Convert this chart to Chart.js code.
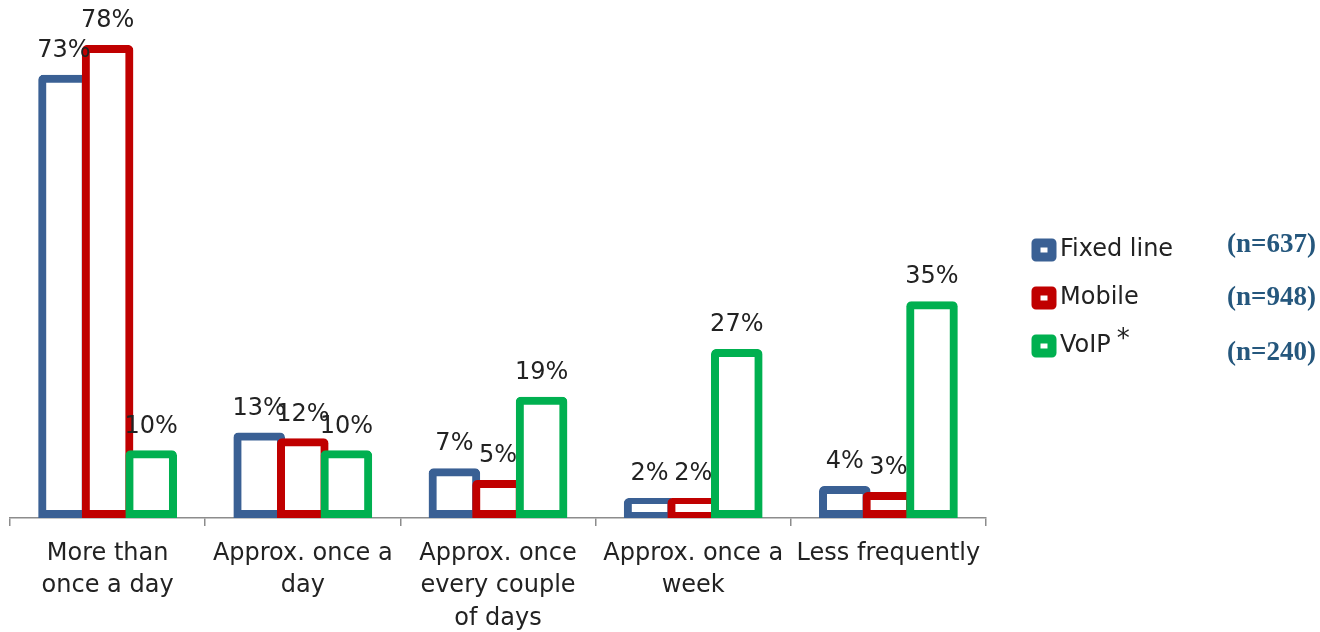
<!DOCTYPE html>
<html>
<head>
<meta charset="utf-8">
<script src="https://cdn.jsdelivr.net/npm/chart.js@4"></script>
<style>
  html, body { margin: 0; padding: 0; background: #fff; }
  #wrap { width: 1320px; height: 632px; }
</style>
</head>
<body>
<div id="wrap"><canvas id="chart" width="1320" height="632"></canvas></div>
<script>
// categories (wrapped the way the original shows them)
const categories = [
  ["More than", "once a day"],
  ["Approx. once a", "day"],
  ["Approx. once", "every couple", "of days"],
  ["Approx. once a", "week"],
  ["Less frequently"]
];
const seriesNames = ["Fixed line", "Mobile", "VoIP"];
const sampleSizes = ["(n=637)", "(n=948)", "(n=240)"];
const fixedLine = [73, 13, 7, 2, 4];
const mobile = [78, 12, 5, 2, 3];
const voip = [10, 10, 19, 27, 35];

const colors = ["#3a6094", "#c00000", "#00b050"];
const font = "DejaVu Sans";

// draw series left to right so later bars overlap earlier ones, like the original
const forwardOrder = {
  id: "forwardOrder",
  beforeDatasetsDraw(chart) {
    for (let i = 0; i < chart.data.datasets.length; i++) {
      chart.getDatasetMeta(i).controller.draw();
    }
    return false;
  }
};

// value labels above each bar
const valueLabels = {
  id: "valueLabels",
  afterDraw(chart) {
    const ctx = chart.ctx;
    ctx.save();
    ctx.font = "24px '" + font + "'";
    ctx.fillStyle = "#222";
    ctx.textAlign = "center";
    ctx.textBaseline = "middle";
    chart.data.datasets.forEach((ds, i) => {
      chart.getDatasetMeta(i).data.forEach((bar, j) => {
        ctx.fillText(ds.data[j] + "%", bar.x, bar.y - 28);
      });
    });
    ctx.restore();
  }
};

// legend on the right plus the sample sizes
const sideLegend = {
  id: "sideLegend",
  afterDraw(chart) {
    const ctx = chart.ctx;
    ctx.save();
    const rows = [250, 298, 346];
    chart.data.datasets.forEach((ds, i) => {
      const y = rows[i];
      ctx.strokeStyle = ds.borderColor;
      ctx.lineWidth = 9;
      ctx.lineJoin = "round";
      ctx.strokeRect(1036, y - 7, 16, 14);
      ctx.font = "24px '" + font + "'";
      ctx.fillStyle = "#222";
      ctx.textAlign = "left";
      ctx.textBaseline = "middle";
      ctx.fillText(ds.label, 1060, y);
      if (ds.label === "VoIP") {
        const w = ctx.measureText(ds.label).width;
        ctx.font = "26px '" + font + "'";
        ctx.fillText("*", 1060 + w + 6, y - 6);
      }
      ctx.font = "bold 27px 'Liberation Serif'";
      ctx.fillStyle = "#25577d";
      ctx.textAlign = "right";
      ctx.fillText(sampleSizes[i], 1316, [245, 298, 353][i]);
    });
    ctx.restore();
  }
};

const datasets = [fixedLine, mobile, voip].map((vals, i) => ({
  label: seriesNames[i],
  data: vals,
  backgroundColor: "#ffffff",
  borderColor: colors[i],
  borderWidth: 8,
  inflateAmount: 4,
  borderRadius: { topLeft: 5, topRight: 5, bottomLeft: 0, bottomRight: 0 },
  borderSkipped: false,
  categoryPercentage: 0.67,
  barPercentage: 1.0
}));

new Chart(document.getElementById("chart"), {
  type: "bar",
  data: { labels: categories, datasets: datasets },
  options: {
    responsive: false,
    animation: false,
    layout: { padding: { left: 10, right: 334, top: 37, bottom: -14 } },
    plugins: {
      legend: { display: false },
      tooltip: { enabled: false }
    },
    scales: {
      // small negative min lifts the bar base so the outer stroke sits on the axis
      y: { display: false, min: -0.7, max: 80 },
      x: {
        grid: { drawOnChartArea: false, color: "#8c8c8c", tickLength: 8, lineWidth: 1.5 },
        border: { color: "#8c8c8c", width: 1.5 },
        ticks: {
          color: "#222",
          font: { family: font, size: 24, lineHeight: 1.36 },
          padding: 11,
          maxRotation: 0,
          autoSkip: false
        }
      }
    }
  },
  plugins: [forwardOrder, valueLabels, sideLegend]
});
</script>
</body>
</html>
